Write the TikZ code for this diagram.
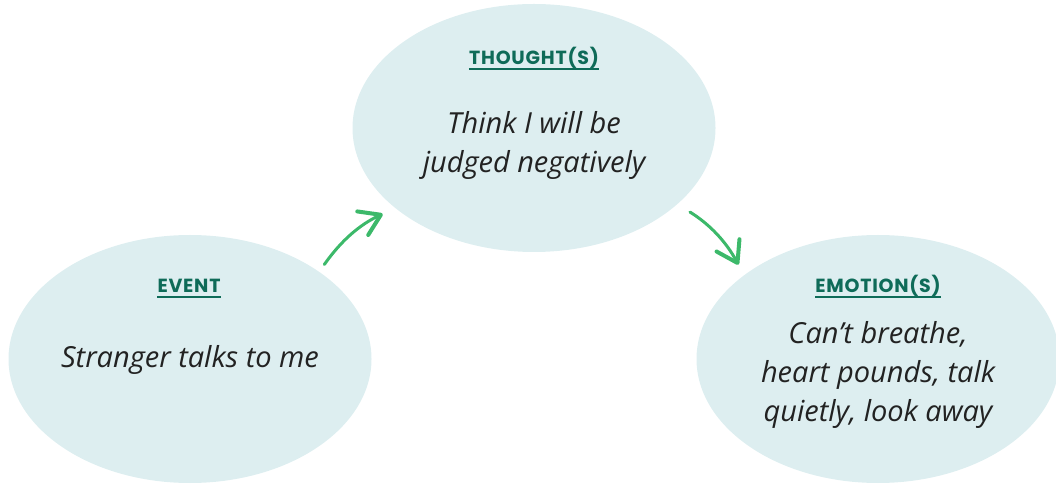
\documentclass[tikz,border=0pt]{standalone}
\usepackage{fontspec}
\setmainfont{Open Sans}
\newfontfamily\headfont{Poppins}[LetterSpace=4]
\usetikzlibrary{shapes.geometric,arrows.meta}
\definecolor{bubbleblue}{HTML}{DDEEF0}
\definecolor{headgreen}{HTML}{0E6B58}
\definecolor{arrowgreen}{HTML}{3CB96A}
\definecolor{inkgray}{HTML}{222222}

\begin{document}
\begin{tikzpicture}[x=1pt, y=1pt,
  bubble/.style={ellipse, fill=bubbleblue, minimum width=363pt, minimum height=248pt, outer sep=0pt, inner sep=0pt},
  heading/.style={font=\headfont\bfseries\fontsize{19}{19}\selectfont, text=headgreen, text height=13pt, text depth=0pt, inner xsep=0pt, inner ysep=4.5pt,
    append after command={(\tikzlastnode.south west) edge[headgreen, line width=1.4pt] (\tikzlastnode.south east)}},
  hand/.style={font=\itshape\fontsize{29}{39}\selectfont, text=inkgray, align=center},
  flow/.style={arrowgreen, line width=3pt, line cap=round, -{Straight Barb[length=20pt, width=26pt, line width=4pt, round]}}]
\useasboundingbox (0,0) rectangle (1056,484);
\clip (0,0) rectangle (1056,484);

% Event
\node[bubble] (event) at (190,125) {};
\node[heading] (eventhead) at (189,198) {EVENT};
\node[hand] (eventtext) at (190,124) {Stranger talks to me};

% Thought
\node[bubble] (thought) at (534,356) {};
\node[heading] (thoughthead) at (534,426) {THOUGHT(S)};
\node[hand] (thoughttext) at (534,339) {Think I will be\\judged negatively};

% Emotion
\node[bubble] (emotion) at (878,125) {};
\node[heading] (emotionhead) at (878,198) {EMOTION(S)};
\node[hand] (emotiontext) at (878,109) {Can’t breathe,\\heart pounds, talk\\quietly, look away};

% Arrows
\draw[flow, shorten <=9pt, shorten >=14pt] (event.34) to[bend left=15] (thought.210);
\draw[flow, shorten <=15pt, shorten >=12pt] (thought.-28) to[bend left=15] (emotion.148);
\end{tikzpicture}
\end{document}
